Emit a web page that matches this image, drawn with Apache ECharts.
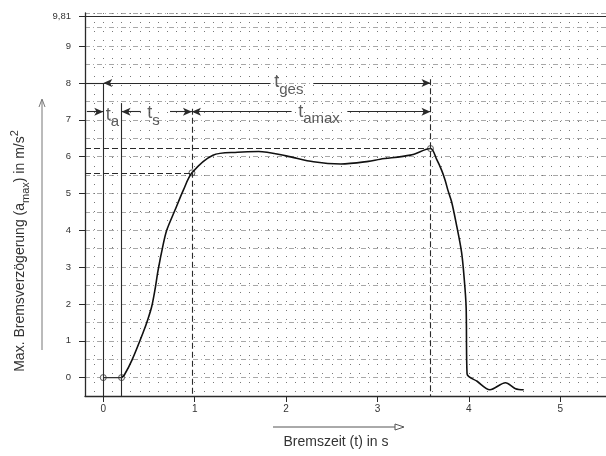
<!DOCTYPE html>
<html><head><meta charset="utf-8">
<script src="https://cdn.jsdelivr.net/npm/echarts@6/dist/echarts.min.js"></script>
<style>html,body{margin:0;padding:0;background:#fff}#c{width:606px;height:456px}</style>
</head><body><div id="c"></div>
<script>
// ---- data ----
const tTickValues = [0, 1, 2, 3, 4, 5];
const aTickValues = [0, 1, 2, 3, 4, 5, 6, 7, 8, 9, 9.81];
const curveT = [0.2, 0.23, 0.315, 0.44, 0.49, 0.53, 0.565, 0.6, 0.65, 0.694, 0.785, 0.876, 0.97, 1.2, 1.47, 1.7, 2.0, 2.3, 2.6, 2.9, 3.03, 3.36, 3.58, 3.65, 3.7, 3.74, 3.77, 3.81, 3.86, 3.92, 3.95, 3.97, 3.98, 4.09, 4.23, 4.4, 4.51, 4.6];
const curveA = [0, 0.07, 0.48, 1.25, 1.6, 1.93, 2.38, 2.92, 3.55, 4.0, 4.55, 5.09, 5.56, 6.04, 6.12, 6.14, 6.02, 5.86, 5.8, 5.87, 5.93, 6.04, 6.22, 5.91, 5.64, 5.36, 5.09, 4.78, 4.2, 3.4, 2.65, 1.9, 0.1, -0.1, -0.33, -0.14, -0.3, -0.33];
const startT = [0, 0.2];
const startA = [0, 0];
const markT = [0, 0.2, 0.97, 3.58];
const markA = [0, 0, 5.56, 6.22];
const gAccel = 9.81;
// guide lines: [t1, a1, t2, a2]
const guideSolid = [[-0.2, 9.81, 5.5, 9.81], [0, 8, 0, -0.5], [0.2, 7.45, 0.2, -0.5], [-0.2, 8, 0, 8]];
const guideDashed = [[-0.2, 6.22, 3.58, 6.22], [-0.2, 5.56, 0.97, 5.56], [0.97, 7.3, 0.97, -0.5], [3.58, 8.1, 3.58, -0.5]];
// dimension lines: [t1, a1, t2, a2, arrow at 'start'|'end']
const dimLines = [
  [0, 8, 1.83, 8, 'start'], [2.3, 8, 3.58, 8, 'end'],
  [-0.18, 7.22, 0, 7.22, 'end'],
  [0.2, 7.22, 0.41, 7.22, 'start'], [0.73, 7.22, 0.97, 7.22, 'end'],
  [0.97, 7.22, 2.06, 7.22, 'start'], [2.67, 7.22, 3.58, 7.22, 'end']
];
// dimension labels: subscript, t, a
const dimLabelSub = ['ges', 'a', 's', 'amax'];
const dimLabelT = [2.03, 0.1, 0.55, 2.36];
const dimLabelA = [7.94, 7.06, 7.09, 7.14];

const INK = '#2a2a2a';
const chart = echarts.init(document.getElementById('c'), null, {renderer: 'canvas'});

function toMark(arr, style, withArrows) {
  return arr.map(r => {
    const s = {coord: [r[0], r[1]], symbol: 'none'};
    const e = {coord: [r[2], r[3]], symbol: 'none'};
    if (withArrows) { if (r[4] === 'start') s.symbol = 'arrow'; else e.symbol = 'arrow'; }
    return [Object.assign(s, {lineStyle: style}), e];
  });
}

const option = {
  animation: false,
  backgroundColor: '#fff',
  grid: {left: 85, right: 0, top: 13, bottom: 60, containLabel: false},
  xAxis: [
    {type: 'value', min: -0.2, max: 5.5, interval: 0.1,
     axisLine: {show: false}, axisTick: {show: false}, axisLabel: {show: false},
     splitLine: {show: true, lineStyle: {color: '#777', width: 1, type: [1, 8]}}},
    {type: 'value', min: -0.2, max: 5.5, position: 'bottom',
     axisLine: {show: true, onZero: false, lineStyle: {color: INK, width: 1.3}},
     axisTick: {show: true, length: 6, customValues: tTickValues, lineStyle: {color: INK}},
     axisLabel: {show: true, customValues: tTickValues, margin: 8, color: '#333', fontSize: 10, fontFamily: 'Liberation Sans'},
     splitLine: {show: false}}
  ],
  yAxis: [
    {type: 'value', min: -0.5, max: 9.9, interval: 0.5,
     axisLine: {show: false}, axisTick: {show: false}, axisLabel: {show: false},
     splitLine: {show: true, lineStyle: {color: '#a8a8a8', width: 1, type: [5, 3, 1, 3]}}},
    {type: 'value', min: -0.5, max: 9.9, position: 'left',
     axisLine: {show: true, onZero: false, lineStyle: {color: INK, width: 1.3}},
     axisTick: {show: true, length: 6, customValues: aTickValues, lineStyle: {color: INK}},
     axisLabel: {show: true, customValues: aTickValues, margin: 14, color: '#333', fontSize: 9.5, fontFamily: 'Liberation Sans',
       formatter: v => (Math.abs(v - gAccel) < 1e-6 ? '9,81' : String(v))},
     splitLine: {show: false}}
  ],
  series: [
    {type: 'line', xAxisIndex: 1, yAxisIndex: 1, data: [], silent: true,
     markLine: {silent: true, animation: false, symbol: ['none', 'none'], symbolSize: [6, 9], label: {show: false},
       data: [].concat(
         toMark(guideSolid, {color: INK, width: 1.1, type: 'solid'}, false),
         toMark(guideDashed, {color: INK, width: 1.1, type: [6, 3]}, false),
         toMark(dimLines, {color: INK, width: 1.1, type: 'solid'}, true)
       )}},
    {type: 'line', xAxisIndex: 1, yAxisIndex: 1, smooth: 0.3, showSymbol: false, silent: true,
     lineStyle: {color: '#111', width: 1.6},
     data: curveT.map((t, i) => [t, curveA[i]])},
    {type: 'line', xAxisIndex: 1, yAxisIndex: 1, showSymbol: false, silent: true,
     lineStyle: {color: '#333', width: 1.4},
     data: startT.map((t, i) => [t, startA[i]])},
    {type: 'scatter', xAxisIndex: 1, yAxisIndex: 1, symbol: 'circle', symbolSize: 6, silent: true,
     itemStyle: {color: '#fff', borderColor: '#333', borderWidth: 1},
     data: markT.map((t, i) => [t, markA[i]])},
    {type: 'scatter', xAxisIndex: 1, yAxisIndex: 1, symbolSize: 0, silent: true,
     label: {show: true, position: 'inside',
       formatter: p => '{t|t}{s|' + dimLabelSub[p.dataIndex] + '}',
       rich: {
         t: {fontSize: 18, color: '#333', fontFamily: 'Liberation Sans', verticalAlign: 'top', lineHeight: 24},
         s: {fontSize: 15, color: '#333', fontFamily: 'Liberation Sans', verticalAlign: 'bottom'}
       }},
     data: dimLabelT.map((t, i) => [t, dimLabelA[i]])}
  ],
  graphic: [
    {type: 'text', x: 20, y: 251, rotation: Math.PI / 2, silent: true,
     style: {text: 'Max. Bremsverzögerung (a{s|max}) in m/s{p|2}', fill: '#333', font: '14px "Liberation Sans"',
       lineHeight: 22, align: 'center', verticalAlign: 'middle',
       rich: {s: {fontSize: 11, fill: '#333', fontFamily: 'Liberation Sans', verticalAlign: 'bottom'},
              p: {fontSize: 11, fill: '#333', fontFamily: 'Liberation Sans', verticalAlign: 'top'}}}},
    {type: 'line', silent: true, shape: {x1: 42, y1: 350, x2: 42, y2: 100}, style: {stroke: '#777', lineWidth: 1}},
    {type: 'polyline', silent: true, shape: {points: [[39, 107], [42, 99], [45, 107]]}, style: {stroke: '#777', lineWidth: 1, fill: null}},
    {type: 'text', x: 336, y: 442, silent: true,
     style: {text: 'Bremszeit (t) in s', fill: '#333', font: '14px "Liberation Sans"', align: 'center', verticalAlign: 'middle'}},
    {type: 'line', silent: true, shape: {x1: 273, y1: 427, x2: 395, y2: 427}, style: {stroke: '#555', lineWidth: 1}},
    {type: 'polygon', silent: true, shape: {points: [[395, 424], [404, 427], [395, 430]]}, style: {stroke: '#555', lineWidth: 1, fill: '#fff'}}
  ]
};
chart.setOption(option);
</script>
</body></html>
